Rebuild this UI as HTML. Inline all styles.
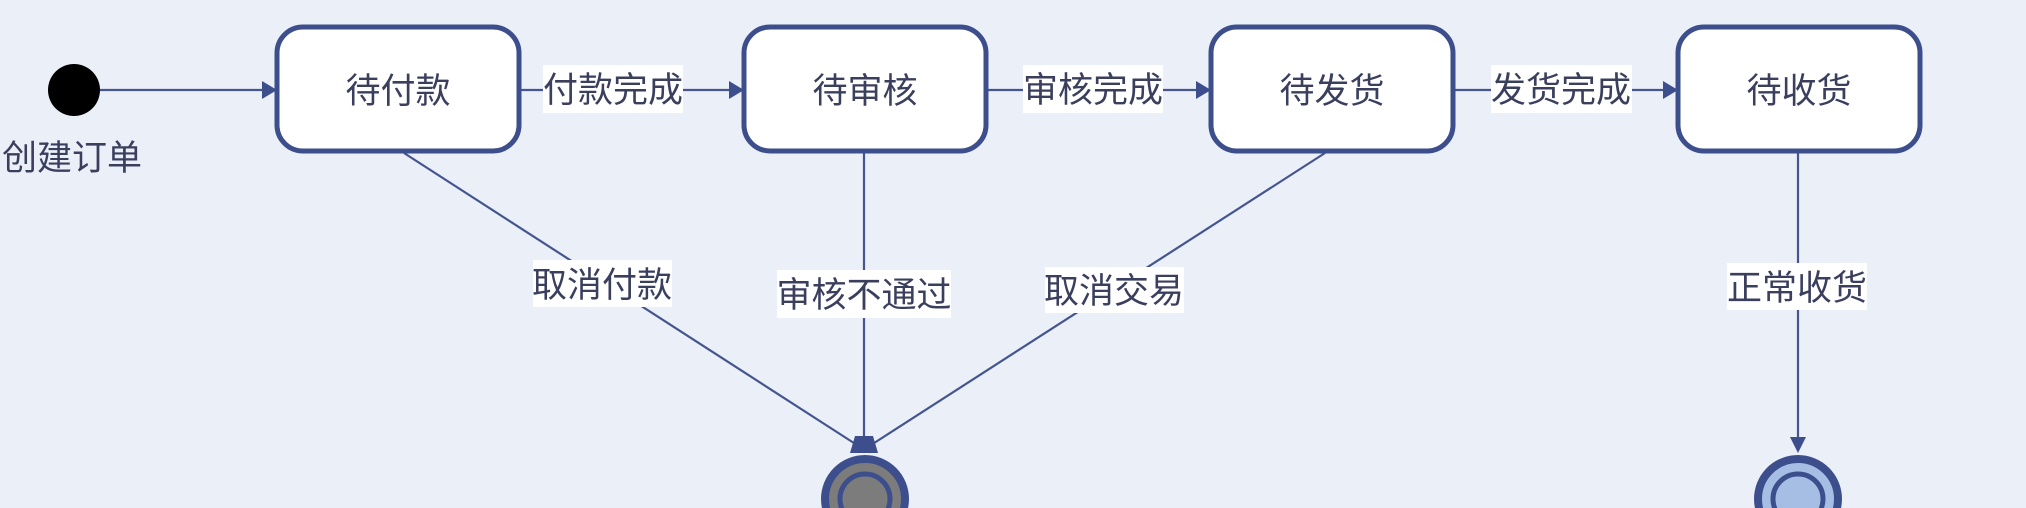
<!DOCTYPE html>
<html><head><meta charset="utf-8"><style>
html,body{margin:0;padding:0;background:#ebf0f8;overflow:hidden;width:2026px;height:508px;}
svg{display:block}
text{font-family:"Liberation Sans","Noto Sans CJK SC",sans-serif;fill:#3b3f5e;font-size:35px;}
</style></head><body>
<svg width="2026" height="508" viewBox="0 0 2026 508" xmlns="http://www.w3.org/2000/svg">
<rect width="2026" height="508" fill="#ebf0f8"/>
<g stroke="#44558f" stroke-width="2.2" fill="none">
<line x1="74" y1="90" x2="270" y2="90"/>
<line x1="520" y1="90" x2="737" y2="90"/>
<line x1="988" y1="90" x2="1204" y2="90"/>
<line x1="1455" y1="90" x2="1671" y2="90"/>
<line x1="404" y1="153" x2="857" y2="445"/>
<line x1="864" y1="153" x2="864" y2="445"/>
<line x1="1325" y1="153" x2="871" y2="445"/>
<line x1="1798" y1="153" x2="1798" y2="440"/>
</g>
<g fill="#3d4e8c">
<polygon points="277,90 262,81 262,99"/>
<polygon points="744,90 729,81 729,99"/>
<polygon points="1211,90 1196,81 1196,99"/>
<polygon points="1678,90 1663,81 1663,99"/>
<polygon points="855,436 873,436 878,453 850,453"/>
<polygon points="1798,453 1790,437 1806,437"/>
</g>
<circle cx="74" cy="90" r="26" fill="#000"/>
<text x="2" y="170">创建订单</text>
<g fill="#fff" stroke="#3d4e8c" stroke-width="5">
<rect x="277" y="27" width="242" height="124" rx="26"/>
<rect x="744" y="27" width="242" height="124" rx="26"/>
<rect x="1211" y="27" width="242" height="124" rx="26"/>
<rect x="1678" y="27" width="242" height="124" rx="26"/>
</g>
<g text-anchor="middle">
<text x="398" y="103">待付款</text>
<text x="865" y="103">待审核</text>
<text x="1332" y="103">待发货</text>
<text x="1799" y="103">待收货</text>
</g>
<g fill="#fff">
<rect x="543" y="65" width="140" height="48"/>
<rect x="1023" y="65" width="140" height="48"/>
<rect x="1491" y="65" width="141" height="48"/>
<rect x="533" y="260" width="139" height="47"/>
<rect x="777" y="270" width="174" height="48"/>
<rect x="1045" y="267" width="139" height="46"/>
<rect x="1727" y="263" width="140" height="47"/>
</g>
<g text-anchor="middle">
<text x="613" y="102">付款完成</text>
<text x="1093" y="102">审核完成</text>
<text x="1561" y="102">发货完成</text>
<text x="602" y="297">取消付款</text>
<text x="864" y="307">审核不通过</text>
<text x="1114" y="303">取消交易</text>
<text x="1797" y="300">正常收货</text>
</g>
<circle cx="865" cy="499" r="40" fill="#7c7c7c" stroke="#3d4e8c" stroke-width="8"/>
<circle cx="865" cy="499" r="25" fill="#7c7c7c" stroke="#3d4e8c" stroke-width="5"/>
<circle cx="1798" cy="499" r="40" fill="#a6bde4" stroke="#3d4e8c" stroke-width="8"/>
<circle cx="1798" cy="499" r="25" fill="#a6bde4" stroke="#3d4e8c" stroke-width="5"/>
</svg>
</body></html>
